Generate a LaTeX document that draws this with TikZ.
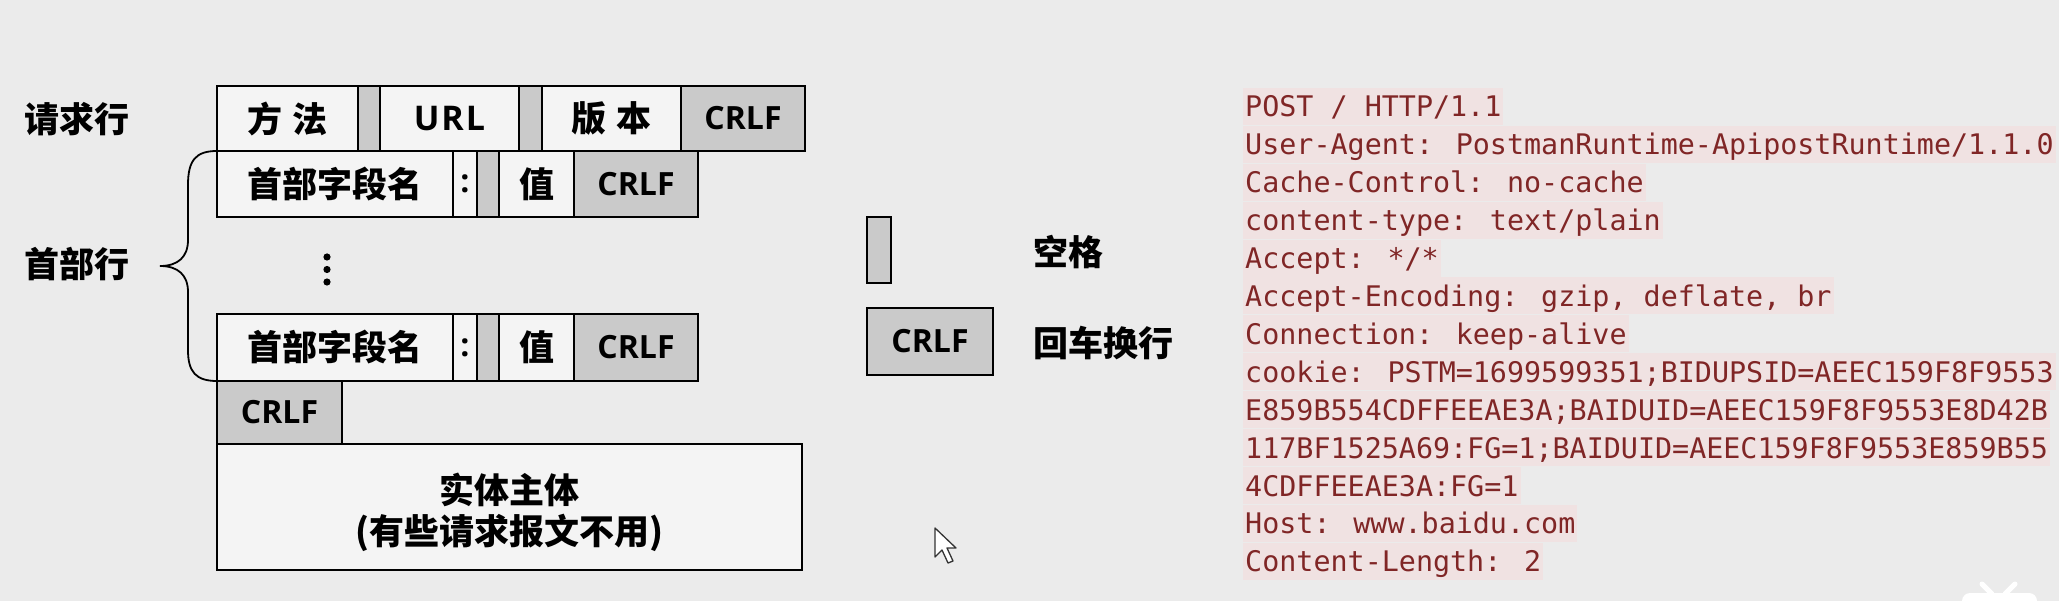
\documentclass[tikz,border=0pt]{standalone}
\usepackage{fontspec}
\newfontfamily\cjk{Noto Sans CJK SC}
\newfontfamily\latf{Open Sans}
\newfontfamily\monof{DejaVu Sans Mono}
\definecolor{bg}{RGB}{235,235,235}
\definecolor{cellwhite}{RGB}{244,244,244}
\definecolor{cellgray}{RGB}{202,202,202}
\definecolor{hl}{RGB}{240,226,226}
\definecolor{codered}{RGB}{128,38,38}
\tikzset{
  cellw/.style={draw, line width=1.6pt, fill=cellwhite, inner sep=0pt, outer sep=0pt, anchor=north west},
  cellg/.style={cellw, fill=cellgray},
  cjkt/.style={font=\cjk\bfseries\fontsize{35}{42}\selectfont, text=black},
  latt/.style={font=\latf\bfseries\fontsize{32}{36}\selectfont, text=black},
  urlt/.style={font=\latf\bfseries\fontsize{34}{38}\selectfont\addfontfeature{LetterSpace=6}, text=black},
  monoline/.style={anchor=base west, fill=hl, inner xsep=2pt, inner ysep=0pt, text height=29pt, text depth=8pt, font=\monof\fontsize{28.37}{34}\selectfont, text=codered},
  bracestyle/.style={line width=1.8pt},
}
\begin{document}
\begin{tikzpicture}[x=1pt,y=-1pt]
\useasboundingbox (0,0) rectangle (2059,601);
\fill[bg] (0,0) rectangle (2059,601);

% labels
\node[cjkt] (lreq) at (77,119) {请求行};
\node[cjkt] (lhdr) at (77,264) {首部行};

% request line
\node[cellw, cjkt, minimum width=141pt, minimum height=65pt] (meth) at (217,86) {方\hspace{10pt}法};
\node[cellg, minimum width=22pt, minimum height=65pt] (sp1) at (358,86) {};
\node[cellw, urlt, minimum width=139pt, minimum height=65pt] (url) at (380,86) {URL};
\node[cellg, minimum width=23pt, minimum height=65pt] (sp2) at (519,86) {};
\node[cellw, cjkt, minimum width=139pt, minimum height=65pt] (ver) at (542,86) {版\hspace{10pt}本};
\node[cellg, latt, minimum width=124pt, minimum height=65pt] (crlf1) at (681,86) {CRLF};

% header line 1
\node[cellw, cjkt, minimum width=236pt, minimum height=66pt] (hn1) at (217,151) {首部字段名};
\node[cellw, latt, minimum width=24pt, minimum height=66pt] (col1) at (453,151) {:};
\node[cellg, minimum width=22pt, minimum height=66pt] (sp3) at (477,151) {};
\node[cellw, cjkt, minimum width=75pt, minimum height=66pt] (val1) at (499,151) {值};
\node[cellg, latt, minimum width=124pt, minimum height=66pt] (crlf2) at (574,151) {CRLF};

% dots
\fill (327,257) circle (3.6);
\fill (327,269.5) circle (3.6);
\fill (327,282) circle (3.6);

% header line 2
\node[cellw, cjkt, minimum width=236pt, minimum height=67pt] (hn2) at (217,314) {首部字段名};
\node[cellw, latt, minimum width=24pt, minimum height=67pt] (col2) at (453,314) {:};
\node[cellg, minimum width=22pt, minimum height=67pt] (sp4) at (477,314) {};
\node[cellw, cjkt, minimum width=75pt, minimum height=67pt] (val2) at (499,314) {值};
\node[cellg, latt, minimum width=124pt, minimum height=67pt] (crlf3) at (574,314) {CRLF};

% empty line CRLF
\node[cellg, latt, minimum width=125pt, minimum height=63pt] (crlf4) at (217,381) {CRLF};

% body
\node[cellw, minimum width=585pt, minimum height=126pt] (body) at (217,444) {};
\node[cjkt] (bodyt1) at ([yshift=17pt]body.center) {实体主体};
\node[cjkt] (bodyt2) at ([yshift=-26pt]body.center) {(有些请求报文不用)};

% brace
\coordinate (tip) at (160,266);
\draw[bracestyle] (hn1.north west) .. controls (196,151) and (188,160) .. (188,185)
  -- (188,240) .. controls (188,257) and (178,266) .. (tip)
  .. controls (178,266) and (188,275) .. (188,292)
  -- (188,350) .. controls (188,372) and (196,381) .. (hn2.south west);

% legend
\node[cellg, minimum width=24pt, minimum height=66pt] (legsp) at (867,217) {};
\node[cellg, latt, minimum width=126pt, minimum height=67pt] (legcr) at (867,308) {CRLF};
\node[cjkt, anchor=west, inner sep=0pt] (legsptxt) at (1033,252) {空格};
\node[cjkt, anchor=west, inner sep=0pt] (legcrtxt) at (1033,343) {回车换行};

% request text
\node[monoline] (l1) at (1243,117) {POST / HTTP/1.1};
\node[monoline] (l2) at (1243,154.9) {User-Agent: PostmanRuntime-ApipostRuntime/1.1.0};
\node[monoline] (l3) at (1243,192.8) {Cache-Control: no-cache};
\node[monoline] (l4) at (1243,230.7) {content-type: text/plain};
\node[monoline] (l5) at (1243,268.6) {Accept: */*};
\node[monoline] (l6) at (1243,306.5) {Accept-Encoding: gzip, deflate, br};
\node[monoline] (l7) at (1243,344.4) {Connection: keep-alive};
\node[monoline] (l8) at (1243,382.3) {cookie: PSTM=1699599351;BIDUPSID=AEEC159F8F9553};
\node[monoline] (l9) at (1243,420.2) {E859B554CDFFEEAE3A;BAIDUID=AEEC159F8F9553E8D42B};
\node[monoline] (l10) at (1243,458.1) {117BF1525A69:FG=1;BAIDUID=AEEC159F8F9553E859B55};
\node[monoline] (l11) at (1243,496.0) {4CDFFEEAE3A:FG=1};
\node[monoline] (l12) at (1243,533.9) {Host: www.baidu.com};
\node[monoline] (l13) at (1243,571.8) {Content-Length: 2};

% mouse cursor
\draw[line width=1.3pt, fill=white, draw=black!80, line join=round]
  (935,528) -- (935,557) -- (942,550) -- (948,563) -- (953,561) -- (947,548) -- (956,548) -- cycle;

% watermark (partially visible)
\begin{scope}
\clip (0,0) rectangle (2059,601);
\draw[white, line width=5pt, line cap=round] (1982,584) -- (1992,594);
\draw[white, line width=5pt, line cap=round] (2015,584) -- (2005,594);
\fill[white, rounded corners=8pt] (1962,593) rectangle (2037,630);
\end{scope}
\end{tikzpicture}
\end{document}
